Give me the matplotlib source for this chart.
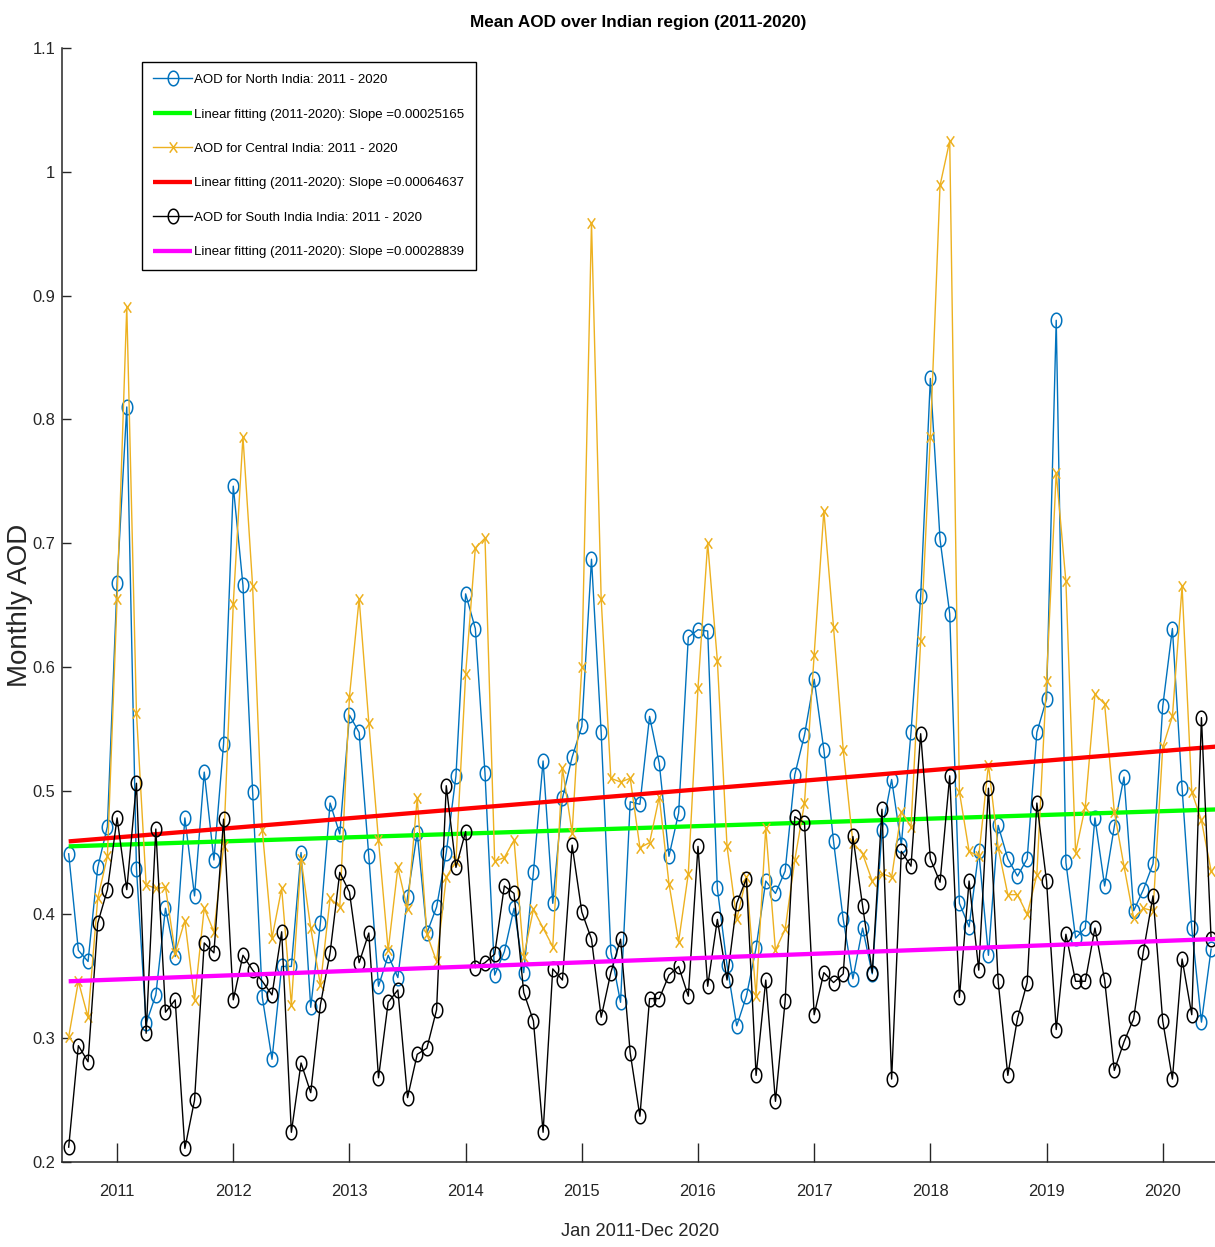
import numpy as np
import matplotlib
matplotlib.use("Agg")
import matplotlib.pyplot as plt
from matplotlib import font_manager
from matplotlib.path import Path

# Monthly mean AOD, one value per month starting Aug 2010
north = [0.449, 0.371, 0.362, 0.438, 0.471, 0.668, 0.810, 0.437, 0.312, 0.335,
         0.405, 0.366, 0.478, 0.415, 0.515, 0.444, 0.538, 0.746, 0.666, 0.499,
         0.333, 0.283, 0.358, 0.358, 0.450, 0.325, 0.393, 0.490, 0.465, 0.561,
         0.547, 0.447, 0.342, 0.367, 0.349, 0.414, 0.466, 0.385, 0.406, 0.450,
         0.512, 0.659, 0.631, 0.514, 0.351, 0.370, 0.405, 0.353, 0.434, 0.524,
         0.409, 0.494, 0.527, 0.552, 0.687, 0.547, 0.370, 0.329, 0.491, 0.489,
         0.560, 0.522, 0.447, 0.482, 0.624, 0.630, 0.629, 0.421, 0.359, 0.310,
         0.334, 0.373, 0.427, 0.417, 0.435, 0.513, 0.545, 0.590, 0.533, 0.459,
         0.396, 0.348, 0.389, 0.352, 0.468, 0.509, 0.456, 0.547, 0.657, 0.833,
         0.703, 0.643, 0.409, 0.390, 0.451, 0.367, 0.472, 0.445, 0.431, 0.445,
         0.547, 0.574, 0.880, 0.442, 0.381, 0.389, 0.478, 0.423, 0.471, 0.511,
         0.403, 0.420, 0.441, 0.568, 0.631, 0.502, 0.389, 0.313, 0.372]

central = [0.301, 0.346, 0.317, 0.413, 0.447, 0.655, 0.891, 0.563, 0.424, 0.421,
           0.422, 0.369, 0.395, 0.331, 0.405, 0.386, 0.455, 0.651, 0.786, 0.665,
           0.468, 0.381, 0.421, 0.327, 0.445, 0.389, 0.343, 0.413, 0.406, 0.576,
           0.655, 0.555, 0.460, 0.371, 0.438, 0.404, 0.494, 0.384, 0.362, 0.430,
           0.443, 0.594, 0.696, 0.704, 0.443, 0.446, 0.460, 0.366, 0.404, 0.389,
           0.374, 0.518, 0.466, 0.600, 0.959, 0.655, 0.510, 0.507, 0.510, 0.454,
           0.458, 0.495, 0.425, 0.378, 0.433, 0.583, 0.700, 0.605, 0.455, 0.396,
           0.430, 0.334, 0.470, 0.371, 0.388, 0.444, 0.490, 0.610, 0.726, 0.632,
           0.533, 0.458, 0.449, 0.427, 0.433, 0.430, 0.483, 0.471, 0.621, 0.786,
           0.989, 1.025, 0.499, 0.451, 0.447, 0.521, 0.454, 0.416, 0.416, 0.400,
           0.432, 0.589, 0.757, 0.669, 0.450, 0.487, 0.578, 0.570, 0.483, 0.439,
           0.397, 0.405, 0.403, 0.535, 0.560, 0.665, 0.499, 0.476, 0.435]

south = [0.212, 0.294, 0.281, 0.393, 0.420, 0.478, 0.420, 0.506, 0.304, 0.469,
         0.321, 0.331, 0.211, 0.250, 0.377, 0.369, 0.477, 0.331, 0.367, 0.355,
         0.346, 0.335, 0.386, 0.224, 0.280, 0.256, 0.327, 0.369, 0.434, 0.418,
         0.361, 0.385, 0.268, 0.329, 0.339, 0.252, 0.287, 0.292, 0.323, 0.504,
         0.438, 0.467, 0.357, 0.361, 0.368, 0.423, 0.417, 0.337, 0.314, 0.224,
         0.356, 0.347, 0.456, 0.402, 0.380, 0.317, 0.353, 0.380, 0.288, 0.237,
         0.332, 0.332, 0.351, 0.358, 0.334, 0.455, 0.342, 0.396, 0.347, 0.409,
         0.429, 0.270, 0.347, 0.249, 0.330, 0.479, 0.474, 0.319, 0.353, 0.345,
         0.352, 0.463, 0.407, 0.353, 0.485, 0.267, 0.451, 0.439, 0.546, 0.445,
         0.426, 0.512, 0.333, 0.427, 0.355, 0.502, 0.346, 0.270, 0.316, 0.345,
         0.490, 0.427, 0.307, 0.384, 0.346, 0.346, 0.389, 0.347, 0.274, 0.297,
         0.316, 0.370, 0.415, 0.314, 0.267, 0.364, 0.319, 0.559, 0.380]

# Linear trends (value per month), intercept at the first month
trend_slopes = [0.00025165, 0.00064637, 0.00028839]
trend_intercepts = [0.455, 0.459, 0.346]
trend_months = 120

region_labels = ["AOD for North India: 2011 - 2020",
                 "AOD for Central India: 2011 - 2020",
                 "AOD for South India India: 2011 - 2020"]
year_ticks = list(range(2011, 2021))
ytick_values = [0.2, 0.3, 0.4, 0.5, 0.6, 0.7, 0.8, 0.9, 1.0, 1.1]

# Fonts: a narrow sans face for horizontal text when available
names = {f.name for f in font_manager.fontManager.ttflist}
if "Liberation Sans Narrow" in names:
    narrow, k = "Liberation Sans Narrow", 1.0
else:
    narrow, k = "Liberation Sans", 0.82
plt.rcParams["font.family"] = [narrow, "DejaVu Sans"]

axis_color = "#262626"
series_colors = ["#0072BD", "#EDB120", "#000000"]
trend_colors = ["#00FF00", "#FF0000", "#FF00FF"]

# Slightly upright ellipse and cross markers
t = np.linspace(0, 2 * np.pi, 64)
ellipse = Path(np.column_stack([0.72 * np.cos(t), np.sin(t)]), closed=True)
cross = Path([(-0.72, -1), (0.72, 1), (-0.72, 1), (0.72, -1)],
             [Path.MOVETO, Path.LINETO, Path.MOVETO, Path.LINETO])

W, H = 1215, 1247
fig = plt.figure(figsize=(W / 100, H / 100), dpi=100)
ax = fig.add_axes([62 / W, 1 - 1162 / H, (W - 62) / W, (1162 - 48) / H])

months = np.arange(len(north))
x = 2010 + (7 + months) / 12.0
tm = np.arange(trend_months)
xt = 2010 + (7 + tm) / 12.0

series = [north, central, south]
markers = [(ellipse, 10.5), (cross, 7.5), (ellipse, 10.5)]
for j in range(3):
    mk, ms = markers[j]
    ax.plot(x, series[j], color=series_colors[j], lw=1.0, marker=mk, ms=ms,
            mfc="none", mec=series_colors[j], mew=1.1, label=region_labels[j],
            zorder=2 + 2 * j)
    fit = trend_intercepts[j] + trend_slopes[j] * tm
    ax.plot(xt, fit, color=trend_colors[j], lw=3.1, solid_capstyle="butt",
            label=f"Linear fitting (2011-2020): Slope ={trend_slopes[j]:.8f}",
            zorder=3 + 2 * j)

ax.set_xlim(2010 + 6.31 / 12, 2010 + 125.4 / 12)
ax.set_ylim(0.2, 1.1)
ax.set_xticks(year_ticks)
ax.set_xticklabels([str(y) for y in year_ticks])
ax.set_yticks(ytick_values)
ax.set_yticklabels([f"{v:g}" for v in ytick_values])

for side in ("top", "right"):
    ax.spines[side].set_visible(False)
for side in ("left", "bottom"):
    ax.spines[side].set_color(axis_color)
    ax.spines[side].set_linewidth(1.1)

ax.tick_params(axis="x", direction="in", length=14, width=1.0, colors=axis_color,
               labelsize=14.5 * k, pad=16)
ax.tick_params(axis="y", direction="in", length=6.5, width=1.0, colors=axis_color,
               labelsize=14.5 * k, pad=5)

ax.set_title("Mean AOD over Indian region (2011-2020)", fontsize=15 * k,
             fontweight="bold", color="black", y=1.023, va="center", pad=0)
ax.set_xlabel("Jan 2011-Dec 2020", fontsize=16 * k, color=axis_color, va="center")
ax.xaxis.set_label_coords(0.501, -0.062)
ax.set_ylabel("Monthly AOD", fontsize=20, color=axis_color, va="center",
              family=["Liberation Sans", "DejaVu Sans"])
ax.yaxis.set_label_coords(-0.036, 0.5)

leg = ax.legend(loc="upper left", bbox_to_anchor=(0.0694, 0.987), borderaxespad=0,
                frameon=True, fancybox=False, edgecolor="black", framealpha=1,
                handlelength=2.9, handletextpad=0.2, labelspacing=1.68,
                borderpad=0.86, numpoints=1, prop={"family": narrow, "size": 11.6 * k})
leg.get_frame().set_linewidth(1.0)

fig.savefig("out.png", dpi=100)
